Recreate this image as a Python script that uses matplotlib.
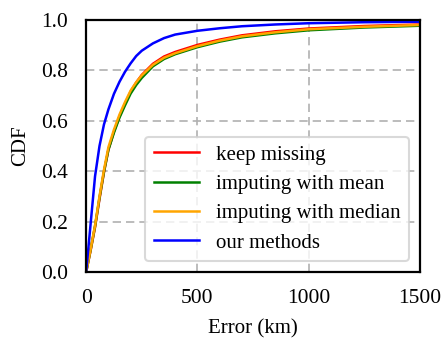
import numpy as np
import matplotlib
matplotlib.use("Agg")
import matplotlib.pyplot as plt

error_km = [0, 20, 40, 60, 80, 100, 125, 150, 175, 200, 225, 250, 300, 350, 400,
            500, 600, 700, 850, 1000, 1250, 1500]

cdf_keep_missing = [0, 0.085, 0.178, 0.29, 0.395, 0.485, 0.557, 0.618, 0.668, 0.716, 0.752, 0.782,
                    0.826, 0.855, 0.873, 0.901, 0.922, 0.939, 0.955, 0.966, 0.976, 0.982]
cdf_mean = [0, 0.088, 0.182, 0.295, 0.398, 0.485, 0.553, 0.613, 0.662, 0.708, 0.742, 0.770,
            0.816, 0.845, 0.864, 0.892, 0.914, 0.931, 0.947, 0.959, 0.970, 0.977]
cdf_median = [0, 0.09, 0.185, 0.30, 0.405, 0.495, 0.565, 0.625, 0.675, 0.72, 0.753, 0.78,
              0.822, 0.85, 0.868, 0.896, 0.918, 0.935, 0.951, 0.963, 0.973, 0.98]
cdf_ours = [0, 0.19, 0.38, 0.50, 0.585, 0.645, 0.707, 0.755, 0.795, 0.828, 0.857, 0.878,
            0.907, 0.928, 0.942, 0.957, 0.967, 0.975, 0.982, 0.987, 0.991, 0.993]

labels = ["keep missing", "imputing with mean", "imputing with median", "our methods"]
colors = ["red", "green", "orange", "blue"]

plt.rcParams['font.family'] = ['Liberation Serif', 'DejaVu Serif']
plt.rcParams['font.size'] = 15

fig = plt.figure(figsize=(4.44, 3.38), dpi=100)
ax = fig.add_axes([0.194, 0.195, 0.752, 0.746])

for ys, lab, col in zip([cdf_keep_missing, cdf_mean, cdf_median, cdf_ours], labels, colors):
    ax.plot(error_km, ys, color=col, lw=1.8, label=lab)

ax.set_xlim(0, 1500)
ax.set_ylim(0, 1.0)
ax.set_xticks([0, 500, 1000, 1500])
ax.set_yticks([0, 0.2, 0.4, 0.6, 0.8, 1.0])
ax.grid(True, color="#b0b0b0", linestyle=(0, (5, 3)), lw=1.2)
ax.tick_params(length=0, labelsize=15.5)
ax.tick_params(axis="y", pad=13)
ax.tick_params(axis="x", pad=12)
for s in ax.spines.values():
    s.set_linewidth(1.6)
    s.set_color("black")

ax.set_xlabel("Error (km)", fontsize=15, labelpad=8)
ax.set_ylabel("CDF", fontsize=15, labelpad=8)

leg = ax.legend(loc="lower right", fontsize=15, handlelength=2.2, frameon=True,
                fancybox=True, edgecolor="#d0d0d0", framealpha=0.8, borderpad=0.4,
                labelspacing=0.47, borderaxespad=0, bbox_to_anchor=(0.967, 0.044))
leg.get_frame().set_linewidth(1.5)

fig.savefig("out.png", dpi=100)
